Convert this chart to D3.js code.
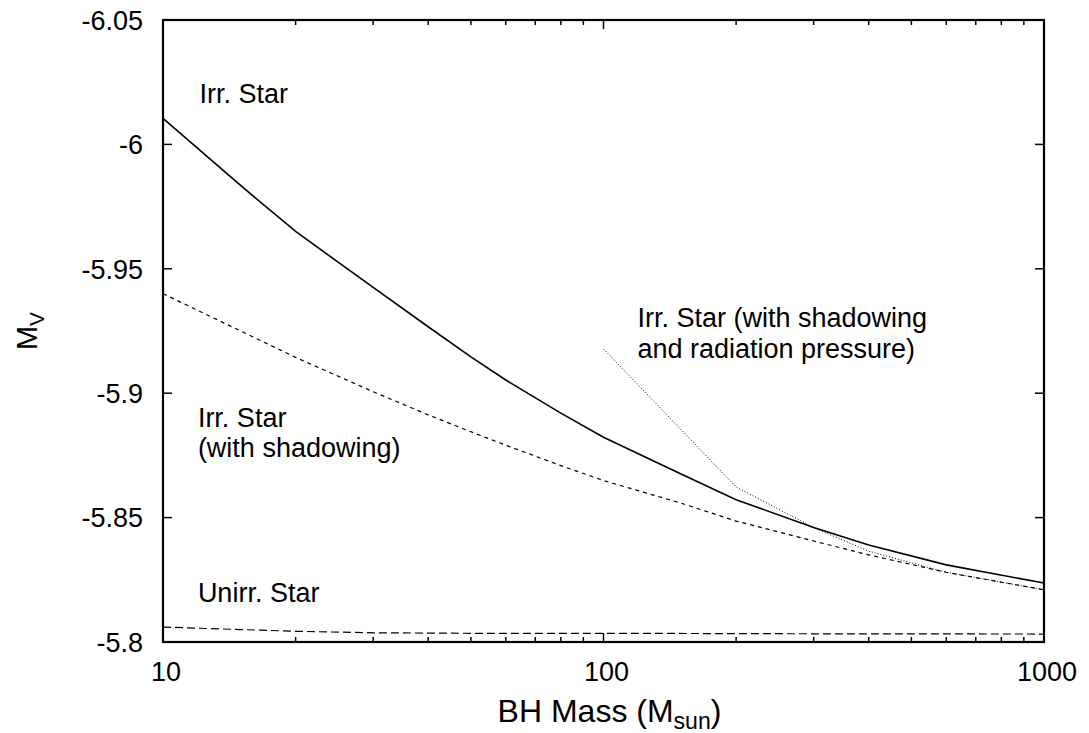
<!DOCTYPE html>
<html>
<head>
<meta charset="utf-8">
<script src="https://cdn.jsdelivr.net/npm/d3@7"></script>
<style>
  html, body { margin: 0; padding: 0; background: #fff; }
  svg { display: block; font-family: "Liberation Sans", Arial, Helvetica, sans-serif; }
</style>
</head>
<body>
<svg id="chart" width="1089" height="733"></svg>
<script>
// Absolute V magnitude of the companion star vs. black-hole mass

// Irradiated star
const irrMass = [10, 15, 20, 30, 40, 50, 60, 80, 100, 150, 200, 300, 400, 600, 1000];
const irrMv   = [-6.0105, -5.9835, -5.9650, -5.9425, -5.9267, -5.9146, -5.9053, -5.8920, -5.8823,
                 -5.8675, -5.8572, -5.8460, -5.8390, -5.8310, -5.8237];

// Irradiated star with shadowing
const shadMass = [10, 20, 30, 40, 50, 60, 80, 100, 150, 200, 300, 400, 600, 1000];
const shadMv   = [-5.9400, -5.9144, -5.9006, -5.8913, -5.8845, -5.8791, -5.8709, -5.8649,
                  -5.8558, -5.8486, -5.8406, -5.8350, -5.8280, -5.8210];

// Irradiated star with shadowing and radiation pressure
const radMass = [100, 200, 300, 400, 600, 1000];
const radMv   = [-5.9178, -5.8623, -5.8460, -5.8365, -5.8280, -5.8210];

// Unirradiated star
const unirrMass = [10, 15, 20, 30, 50, 100, 300, 1000];
const unirrMv   = [-5.8060, -5.8050, -5.8043, -5.8037, -5.8035, -5.8035, -5.8033, -5.8032];

// Axis ticks
const xMajorTicks = [10, 100, 1000];
const xTickLabels = ["10", "100", "1000"];
const xMinorTicks = [20, 30, 40, 50, 60, 70, 80, 90, 200, 300, 400, 500, 600, 700, 800, 900];
const yTicks      = [-6.05, -6.0, -5.95, -5.9, -5.85, -5.8];
const yTickLabels = ["-6.05", "-6", "-5.95", "-5.9", "-5.85", "-5.8"];

// Curve annotations: anchor (mass, Mv) of the first text line
const annotations = [
  { lines: ["Irr. Star"], mass: 12.1, mv: -6.0166 },
  { lines: ["Irr. Star", "(with shadowing)"], mass: 12.0, mv: -5.8865 },
  { lines: ["Irr. Star (with shadowing", "and radiation pressure)"], mass: 119.4, mv: -5.9265 },
  { lines: ["Unirr. Star"], mass: 12.0, mv: -5.8160 }
];

const svg = d3.select("#chart");
const margin = { left: 163, right: 45, top: 20, bottom: 91 };
const W = +svg.attr("width"), H = +svg.attr("height");
const x0 = margin.left, x1 = W - margin.right;
const y0 = margin.top, y1 = H - margin.bottom;

const x = d3.scaleLog().domain([10, 1000]).range([x0, x1]);
const y = d3.scaleLinear().domain([-6.05, -5.8]).range([y0, y1]);

const tickFont = 27, labelFont = 27, titleFont = 32;
const lineGap = 30.5;
const majorLen = 9, minorLen = 5;

// Curves
const line = d3.line().x(d => x(d[0])).y(d => y(d[1]));
const series = [
  { m: irrMass,   v: irrMv,   width: 1.6, dash: null },
  { m: shadMass,  v: shadMv,  width: 1.2, dash: "4,4" },
  { m: radMass,   v: radMv,   width: 1.0, dash: "1,2" },
  { m: unirrMass, v: unirrMv, width: 1.2, dash: "8,4" }
];
const gCurves = svg.append("g");
series.forEach(s => {
  gCurves.append("path")
    .datum(d3.zip(s.m, s.v))
    .attr("d", line)
    .attr("fill", "none")
    .attr("stroke", "#000")
    .attr("stroke-width", s.width)
    .attr("stroke-dasharray", s.dash);
});

// Frame ticks (inward, mirrored on all four sides)
const gTicks = svg.append("g").attr("stroke", "#000").attr("stroke-width", 1.5);
xMajorTicks.concat(xMinorTicks).forEach(t => {
  const len = xMajorTicks.includes(t) ? majorLen : minorLen;
  gTicks.append("line").attr("x1", x(t)).attr("x2", x(t)).attr("y1", y1).attr("y2", y1 - len);
  gTicks.append("line").attr("x1", x(t)).attr("x2", x(t)).attr("y1", y0).attr("y2", y0 + len);
});
yTicks.forEach(t => {
  gTicks.append("line").attr("x1", x0).attr("x2", x0 + majorLen).attr("y1", y(t)).attr("y2", y(t));
  gTicks.append("line").attr("x1", x1).attr("x2", x1 - majorLen).attr("y1", y(t)).attr("y2", y(t));
});

// Frame
svg.append("rect")
  .attr("x", x0).attr("y", y0)
  .attr("width", x1 - x0).attr("height", y1 - y0)
  .attr("fill", "none").attr("stroke", "#000").attr("stroke-width", 2.2);

// Tick labels
svg.append("g").selectAll("text").data(xMajorTicks).join("text")
  .attr("x", d => x(d) + 3)
  .attr("y", y1 + 39)
  .attr("text-anchor", "middle")
  .attr("font-size", tickFont)
  .text((d, i) => xTickLabels[i]);

svg.append("g").selectAll("text").data(yTicks).join("text")
  .attr("x", x0 - 20)
  .attr("y", d => y(d))
  .attr("dy", "0.36em")
  .attr("text-anchor", "end")
  .attr("font-size", tickFont)
  .text((d, i) => yTickLabels[i]);

// Axis titles
const xTitle = svg.append("text")
  .attr("x", (x0 + x1) / 2 + 6)
  .attr("y", H - 11)
  .attr("text-anchor", "middle")
  .attr("font-size", titleFont);
xTitle.append("tspan").text("BH Mass (M");
xTitle.append("tspan").attr("font-size", titleFont * 0.72).attr("dy", 7).text("sun");
xTitle.append("tspan").attr("dy", -7).text(")");

const yTitle = svg.append("text")
  .attr("transform", `translate(37,${(y0 + y1) / 2}) rotate(-90)`)
  .attr("text-anchor", "middle")
  .attr("font-size", 29);
yTitle.append("tspan").text("M");
yTitle.append("tspan").attr("font-size", 29 * 0.72).attr("dy", 7).text("V");

// Curve annotations
const gAnn = svg.append("g");
annotations.forEach(a => {
  const t = gAnn.append("text")
    .attr("x", x(a.mass))
    .attr("y", y(a.mv))
    .attr("font-size", labelFont);
  a.lines.forEach((s, i) => {
    t.append("tspan").attr("x", x(a.mass)).attr("dy", i === 0 ? 0 : lineGap).text(s);
  });
});
</script>
</body>
</html>
